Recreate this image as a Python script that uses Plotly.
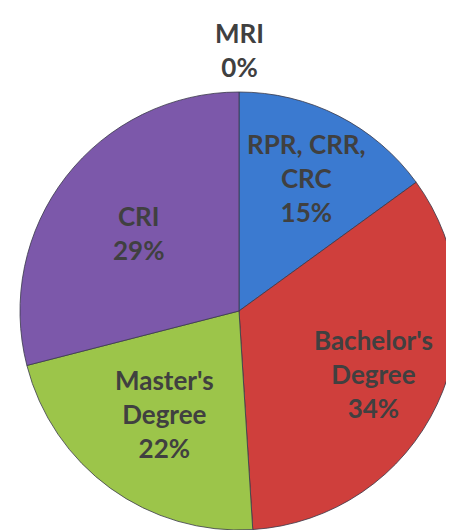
import math
import plotly.graph_objects as go

labels = ["MRI", "RPR, CRR, CRC", "Bachelor's Degree", "Master's Degree", "CRI"]
display_labels = ["MRI", "RPR, CRR,<br>CRC", "Bachelor's<br>Degree", "Master's<br>Degree", "CRI"]
values = [0, 15, 34, 22, 29]

colors = ["#3b7ad0", "#3b7ad0", "#cf3f3c", "#9cc54a", "#7c58aa"]
# radial position of each label as a fraction of the pie radius (layout only)
label_radius = [1.19, 0.68, 0.68, 0.58, 0.58]

W, H = 454, 530
dom_x = [12 / W, 450 / W]
dom_y = [8 / H, 446 / H]

fig = go.Figure(go.Pie(
    labels=labels,
    values=values,
    textinfo="none",
    sort=False,
    direction="clockwise",
    rotation=0,
    marker=dict(colors=colors, line=dict(color="#3a3a4a", width=0.8)),
    showlegend=False,
    domain=dict(x=dom_x, y=dom_y),
    hoverinfo="label+percent",
))

# label placement derived from the slice angles
cx = (dom_x[0] + dom_x[1]) / 2 * W
cy = (dom_y[0] + dom_y[1]) / 2 * H
r = min((dom_x[1] - dom_x[0]) * W, (dom_y[1] - dom_y[0]) * H) / 2
total = sum(values)
cum = 0.0
for lab, v, f in zip(display_labels, values, label_radius):
    mid = (cum + v / 2) / total * 2 * math.pi
    cum += v
    px = cx + f * r * math.sin(mid)
    py = cy + f * r * math.cos(mid)
    pct = round(v / total * 100)
    fig.add_annotation(
        x=px / W, y=py / H, xref="paper", yref="paper",
        text=f"{lab}<br>{pct}%", showarrow=False,
        xanchor="center", yanchor="middle", align="center",
        font=dict(family="Lato", size=26, color="#404040", weight="bold"),
    )

fig.update_layout(
    width=W, height=H,
    margin=dict(l=0, r=0, t=0, b=0),
    paper_bgcolor="white",
    plot_bgcolor="white",
)

fig.write_html("out.html")
